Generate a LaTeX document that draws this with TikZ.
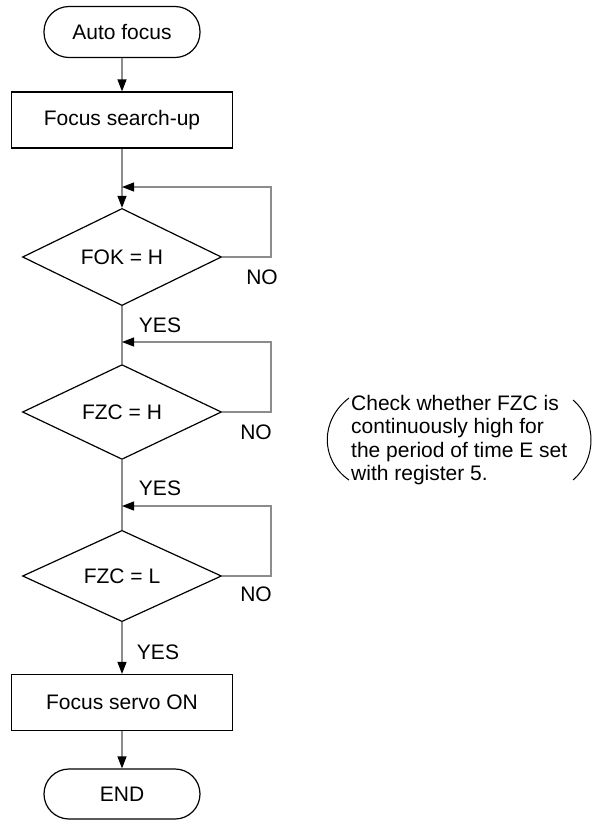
\documentclass[tikz,border=0pt]{standalone}
\usepackage{fontspec}
\setmainfont{Liberation Sans}
\usetikzlibrary{shapes.geometric,arrows.meta}
\begin{document}
\begin{tikzpicture}[x=1pt,y=-1pt,
  font=\fontsize{21}{24}\selectfont,
  outl/.style={draw=black, line width=1.2pt},
  term/.style={outl, rectangle, rounded corners=25pt, minimum width=156pt, minimum height=51pt, inner sep=0pt},
  proc/.style={outl, rectangle, minimum width=221pt, minimum height=56pt, inner sep=0pt},
  dec/.style={outl, diamond, minimum width=199pt, minimum height=90pt, inner sep=0pt},
  conn/.style={draw=black!45, line width=1.2pt},
  arr/.style={conn, -{Triangle[length=12pt,width=9pt,color=black]}},
  lbl/.style={inner sep=0pt},
  paren/.style={draw=black, line width=1pt}]
\useasboundingbox (0,0) rectangle (594,820);

\node[term] (start) at (122,32) {Auto focus};
\node[proc] (search) at (122,120) {Focus search-up};
\node[dec] (d1) at (122,257) {FOK = H};
\node[dec] (d2) at (122,412) {FZC = H};
\node[dec] (d3) at (122,576) {FZC = L};
\node[proc] (servo) at (122,702.5) {Focus servo ON};
\node[term, minimum height=50pt] (end) at (122,794) {END};

\coordinate (j1) at (122,187); \coordinate (c1) at (271,187);
\coordinate (j2) at (122,342); \coordinate (c2) at (271,342);
\coordinate (j3) at (122,506); \coordinate (c3) at (271,506);

\draw[arr] (start) -- (search);
\draw[arr] (search) -- (d1);
\draw[arr] (d1.east) -| (c1) -- (j1);
\draw[conn] (d1) -- (d2);
\draw[arr] (d2.east) -| (c2) -- (j2);
\draw[conn] (d2) -- (d3);
\draw[arr] (d3.east) -| (c3) -- (j3);
\draw[arr] (d3) -- (servo);
\draw[arr] (servo) -- (end);

\node[lbl] (no1) at (262,277) {NO};
\node[lbl] (yes1) at (160,325) {YES};
\node[lbl] (no2) at (256,432) {NO};
\node[lbl] (yes2) at (160,488) {YES};
\node[lbl] (no3) at (256,594) {NO};
\node[lbl] (yes3) at (158,652) {YES};

\node[lbl, align=left, anchor=west, font=\fontsize{21}{23.5}\selectfont] (note) at (351,440)
  {Check whether FZC is\\continuously high for\\the period of time E set\\with register 5.};
\draw[paren] (349,398) .. controls (320,420) and (320,460) .. (349,480);
\draw[paren] (573,400) .. controls (597,420) and (597,460) .. (573,480);
\end{tikzpicture}
\end{document}
